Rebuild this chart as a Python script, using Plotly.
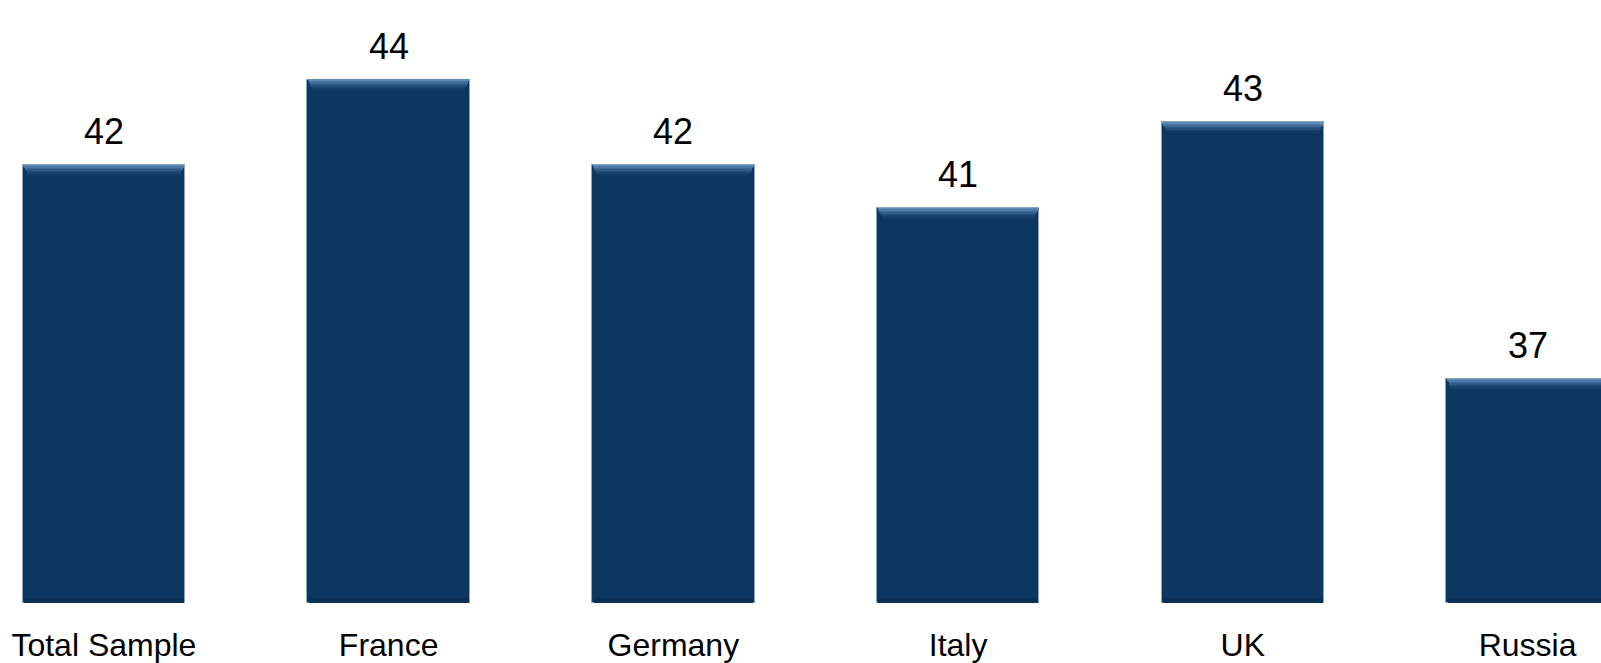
import plotly.graph_objects as go

# Survey scores by market
categories = ["Total Sample", "France", "Germany", "Italy", "UK", "Russia"]
scores = [42, 44, 42, 41, 43, 37]

AXIS_MIN = 31.76
AXIS_MAX = 45.86
BAR_WIDTH = 0.571
BODY_COLOR = "#0c3761"
EDGE_COLOR = "#8aa3bc"
FONT = "Liberation Sans, Arial, sans-serif"

fig = go.Figure()

# main bar bodies
fig.add_trace(go.Bar(
    x=categories, y=[v - AXIS_MIN for v in scores], base=AXIS_MIN,
    width=BAR_WIDTH, marker=dict(color=BODY_COLOR, line=dict(color=EDGE_COLOR, width=1)),
    hoverinfo="skip", showlegend=False,
))

# bevel highlight near the top of each bar (light to dark bands)
bevel_colors = ["#5d89b5", "#4c79a6", "#3d6a97", "#2f5b88", "#234e7a", "#19436d", "#123c66"]
band = 0.034
for i, col in enumerate(bevel_colors):
    fig.add_trace(go.Bar(
        x=categories, y=[band] * len(scores),
        base=[v - band * (i + 1) for v in scores],
        width=BAR_WIDTH - 0.0055 * (i + 1), marker=dict(color=col, line=dict(width=0)),
        hoverinfo="skip", showlegend=False,
    ))

# faint shadow band along the bottom
fig.add_trace(go.Bar(
    x=categories, y=[0.12] * len(scores), base=AXIS_MIN,
    width=BAR_WIDTH - 0.01, marker=dict(color="#0a2f54", line=dict(width=0)),
    hoverinfo="skip", showlegend=False,
))

# value labels above bars
for c, v in zip(categories, scores):
    fig.add_annotation(
        x=c, y=v, text=str(v), showarrow=False, yanchor="bottom", yshift=11,
        font=dict(family=FONT, size=36, color="#000000"),
    )

fig.update_layout(
    width=1601, height=663,
    margin=dict(l=0, r=0, t=0, b=56),
    paper_bgcolor="#ffffff", plot_bgcolor="#ffffff",
    barmode="overlay", bargap=0,
    xaxis=dict(
        range=[-0.365, 5.258], showgrid=False, zeroline=False, showline=False,
        ticks="", ticklabelstandoff=20,
        tickfont=dict(family=FONT, size=32, color="#000000"),
    ),
    yaxis=dict(range=[AXIS_MIN, AXIS_MAX], visible=False),
)

fig.write_html("out.html")
